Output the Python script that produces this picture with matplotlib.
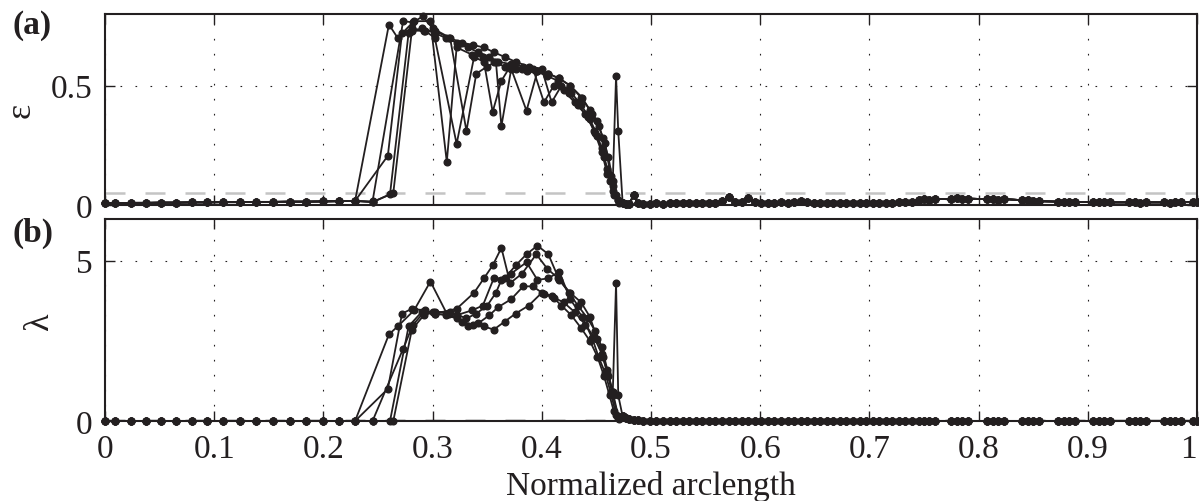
import matplotlib
matplotlib.use("Agg")
import matplotlib.pyplot as plt

plt.rcParams['font.family'] = ['Liberation Serif', 'DejaVu Serif']
plt.rcParams['font.size'] = 24

ink = '#231f20'

# shared flat part before the active zone
s_left = [0.000, 0.009, 0.024, 0.038, 0.051, 0.065, 0.080, 0.093, 0.108, 0.124,
          0.138, 0.154, 0.169, 0.184, 0.200, 0.214, 0.229]
eps_left = [0.008, 0.008, 0.009, 0.009, 0.010, 0.010, 0.011, 0.011, 0.012, 0.012,
            0.013, 0.013, 0.014, 0.014, 0.015, 0.016, 0.017]
lam_left = [0, 0, 0, 0, 0, 0, 0, 0, 0, 0,
            0, 0, 0, 0, 0, 0, 0]

# active zone, one list per run
s_run1 = [0.260, 0.268, 0.283, 0.298, 0.313, 0.322, 0.336, 0.346, 0.356, 0.366,
          0.376, 0.386, 0.396, 0.406, 0.416, 0.426, 0.436, 0.444, 0.451, 0.456,
          0.461, 0.465, 0.468, 0.470]
eps_run1 = [0.756, 0.70, 0.77, 0.77, 0.18, 0.66, 0.63, 0.62, 0.60, 0.58,
            0.57, 0.56, 0.56, 0.55, 0.53, 0.50, 0.45, 0.40, 0.35, 0.28,
            0.20, 0.10, 0.54, 0.31]
lam_run1 = [2.70, 2.95, 3.45, 4.35, 3.35, 3.30, 3.45, 3.60, 4.45, 4.45,
            4.85, 5.20, 5.47, 5.20, 4.40, 4.00, 3.70, 3.25, 2.55, 2.00,
            1.40, 0.90, 4.30, 0.80]

s_run2 = [0.259, 0.272, 0.281, 0.293, 0.302, 0.322, 0.338, 0.347, 0.355, 0.363,
          0.371, 0.382, 0.395, 0.405, 0.415, 0.425, 0.433, 0.442, 0.449, 0.455,
          0.460, 0.465, 0.470]
eps_run2 = [0.206, 0.72, 0.74, 0.73, 0.70, 0.256, 0.62, 0.60, 0.39, 0.52,
            0.58, 0.57, 0.56, 0.54, 0.52, 0.47, 0.42, 0.37, 0.30, 0.24,
            0.15, 0.08, 0.02]
lam_run2 = [1.00, 3.35, 3.50, 3.45, 3.35, 3.50, 4.00, 4.45, 4.85, 5.40,
            4.30, 4.60, 5.20, 4.75, 4.45, 4.00, 3.60, 3.20, 2.80, 2.30,
            1.60, 0.90, 0.15]

s_run3 = [0.245, 0.273, 0.282, 0.291, 0.300, 0.316, 0.331, 0.340, 0.350, 0.358,
          0.363, 0.372, 0.386, 0.396, 0.406, 0.416, 0.426, 0.437, 0.446, 0.452,
          0.458, 0.463, 0.468]
eps_run3 = [0.015, 0.77, 0.765, 0.79, 0.74, 0.70, 0.31, 0.55, 0.58, 0.60,
            0.33, 0.57, 0.395, 0.56, 0.55, 0.53, 0.50, 0.45, 0.38, 0.33,
            0.26, 0.12, 0.04]
lam_run3 = [0.00, 2.25, 3.00, 3.35, 3.40, 3.40, 3.20, 3.35, 3.60, 4.00,
            4.40, 4.60, 4.95, 4.40, 4.45, 4.66, 3.80, 3.25, 2.60, 2.00,
            1.50, 0.90, 0.20]

s_run4 = [0.245, 0.261, 0.278, 0.290, 0.302, 0.312, 0.322, 0.332, 0.342, 0.352,
          0.360, 0.372, 0.383, 0.392, 0.402, 0.411, 0.420, 0.430, 0.440, 0.448,
          0.455, 0.460, 0.465, 0.470]
eps_run4 = [0.012, 0.045, 0.72, 0.74, 0.72, 0.70, 0.68, 0.66, 0.64, 0.62,
            0.60, 0.59, 0.58, 0.57, 0.43, 0.50, 0.48, 0.43, 0.38, 0.31,
            0.22, 0.13, 0.06, 0.02]
lam_run4 = [0.00, 0.00, 2.95, 3.40, 3.35, 3.30, 3.20, 2.95, 3.05, 3.30,
            3.55, 3.80, 4.20, 4.20, 3.95, 3.85, 3.70, 3.40, 3.00, 2.60,
            2.10, 1.50, 0.80, 0.10]

s_run5 = [0.245, 0.264, 0.281, 0.292, 0.302, 0.315, 0.327, 0.337, 0.347, 0.356,
          0.366, 0.376, 0.388, 0.400, 0.409, 0.418, 0.427, 0.436, 0.444, 0.451,
          0.457, 0.462, 0.466, 0.471]
eps_run5 = [0.012, 0.05, 0.73, 0.73, 0.73, 0.70, 0.68, 0.67, 0.66, 0.64,
            0.62, 0.60, 0.58, 0.57, 0.43, 0.50, 0.47, 0.42, 0.36, 0.29,
            0.20, 0.10, 0.04, 0.01]
lam_run5 = [0.00, 0.00, 2.85, 3.30, 3.40, 3.35, 3.10, 3.00, 2.95, 2.85,
            3.10, 3.35, 3.60, 4.00, 3.90, 3.60, 3.30, 2.90, 2.50, 2.00,
            1.40, 0.80, 0.30, 0.05]

# shared flat part after the active zone
s_tail = [0.474, 0.477, 0.480, 0.484, 0.488, 0.493, 0.499, 0.505, 0.511, 0.517,
          0.523, 0.529, 0.535, 0.541, 0.547, 0.553, 0.559, 0.565, 0.571, 0.577,
          0.583, 0.589, 0.595, 0.601, 0.607, 0.613, 0.619, 0.625, 0.631, 0.637,
          0.643, 0.649, 0.655, 0.661, 0.667, 0.673, 0.679, 0.685, 0.691, 0.697,
          0.703, 0.709, 0.715, 0.721, 0.727, 0.733, 0.739, 0.745, 0.750, 0.755,
          0.760, 0.775, 0.780, 0.785, 0.790, 0.808, 0.813, 0.818, 0.823, 0.840,
          0.845, 0.850, 0.855, 0.873, 0.878, 0.883, 0.888, 0.905, 0.910, 0.915,
          0.920, 0.938, 0.943, 0.948, 0.953, 0.970, 0.975, 0.980, 0.985, 0.996,
          1.000]
eps_tail = [0.010, 0.006, 0.004, 0.040, 0.008, 0.006, 0.006, 0.007, 0.006, 0.007,
            0.008, 0.007, 0.008, 0.008, 0.009, 0.008, 0.010, 0.015, 0.035, 0.014,
            0.012, 0.030, 0.012, 0.010, 0.009, 0.010, 0.011, 0.010, 0.012, 0.017,
            0.011, 0.010, 0.009, 0.010, 0.008, 0.009, 0.008, 0.009, 0.008, 0.008,
            0.009, 0.008, 0.009, 0.010, 0.011, 0.012, 0.014, 0.020, 0.024, 0.022,
            0.026, 0.024, 0.028, 0.025, 0.027, 0.024, 0.027, 0.023, 0.025, 0.020,
            0.022, 0.018, 0.016, 0.014, 0.013, 0.012, 0.013, 0.012, 0.011, 0.012,
            0.011, 0.011, 0.012, 0.010, 0.011, 0.011, 0.010, 0.011, 0.012, 0.012,
            0.012]
lam_tail = [0.15, 0.08, 0.05, 0.03, 0.02, 0.01, 0, 0, 0, 0,
            0, 0, 0, 0, 0, 0, 0, 0, 0, 0,
            0, 0, 0, 0, 0, 0, 0, 0, 0, 0,
            0, 0, 0, 0, 0, 0, 0, 0, 0, 0,
            0, 0, 0, 0, 0, 0, 0, 0, 0, 0,
            0, 0, 0, 0, 0, 0, 0, 0, 0, 0,
            0, 0, 0, 0, 0, 0, 0, 0, 0, 0,
            0, 0, 0, 0, 0, 0, 0, 0, 0, 0,
            0]

runs = [(s_run1, eps_run1, lam_run1), (s_run2, eps_run2, lam_run2),
        (s_run3, eps_run3, lam_run3), (s_run4, eps_run4, lam_run4),
        (s_run5, eps_run5, lam_run5)]

x_ticks = [0, 0.1, 0.2, 0.3, 0.4, 0.5, 0.6, 0.7, 0.8, 0.9, 1]
x_ticklabels = ['0', '0.1', '0.2', '0.3', '0.4', '0.5', '0.6', '0.7', '0.8', '0.9', '1']
eps_threshold = 0.05
lam_threshold = 0.03

fig = plt.figure(figsize=(11.99, 5.02), dpi=100)
ax1 = fig.add_axes([105/1199, 1-206/502, 1092/1199, 191/502])
ax2 = fig.add_axes([105/1199, 1-422/502, 1092/1199, 202/502])

for ax in (ax1, ax2):
    ax.set_xlim(0, 1)
    ax.set_xticks(x_ticks)
    ax.grid(True, linestyle=(0, (1.5, 12)), color=ink, lw=0.8)
    ax.tick_params(direction='in', top=True, right=True, length=7, width=1,
                   colors=ink, labelsize=24)
    ax.tick_params(axis='x', pad=9)
    ax.tick_params(axis='y', pad=9)
    for sp in ax.spines.values():
        sp.set_linewidth(1.5)
        sp.set_color(ink)

ax1.axhline(eps_threshold, color='#c4c4c4', lw=1.8, dashes=(8, 8), zorder=1)
ax2.axhline(lam_threshold, color='#c4c4c4', lw=1.8, dashes=(8, 8), zorder=1)

for s_r, e_r, l_r in runs:
    s = s_left + s_r + s_tail
    e = eps_left + e_r + eps_tail
    l = lam_left + l_r + lam_tail
    ax1.plot(s, e, '-o', color=ink, lw=1.3, ms=4.8, clip_on=False, zorder=3)
    ax2.plot(s, l, '-o', color=ink, lw=1.3, ms=4.8, clip_on=False, zorder=3)

ax1.set_ylim(0, 0.8)
ax1.set_yticks([0, 0.5])
ax1.set_yticklabels(['0', '0.5'])
ax1.set_xticklabels([])
ax1.set_ylabel('ε', color=ink, fontsize=26)
ax1.yaxis.set_label_coords(-0.062, 0.5)

ax2.set_ylim(0, 6.3)
ax2.set_yticks([0, 5])
ax2.set_yticklabels(['0', '5'])
ax2.set_xticklabels(x_ticklabels)
ax2.get_xticklabels()[-1].set_horizontalalignment('right')
ax2.set_ylabel('λ', color=ink, fontsize=26)
ax2.yaxis.set_label_coords(-0.045, 0.5)
ax2.set_xlabel('Normalized arclength', color=ink, labelpad=4)

fig.text(12/1199, 1-10/502, '(a)', ha='left', va='top', fontweight='bold', color=ink)
fig.text(12/1199, 1-218/502, '(b)', ha='left', va='top', fontweight='bold', color=ink)

fig.savefig('out.png', dpi=100)
